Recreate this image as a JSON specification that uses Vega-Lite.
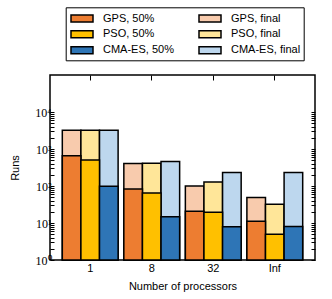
{
  "$schema": "https://vega.github.io/schema/vega-lite/v6.json",
  "width": 265,
  "height": 185,
  "autosize": "none",
  "padding": {"left": 50, "top": 75, "right": 17, "bottom": 39},
  "config": {
    "view": {"stroke": "black", "strokeWidth": 1.5},
    "font": "Liberation Sans",
    "legend": {"strokeColor": "black", "fillColor": "white"},
    "axis": {"domain": false, "grid": false, "tickColor": "black", "labelColor": "black", "titleColor": "black", "titleFontWeight": "normal", "titleFontSize": 11, "titleFont": "Liberation Sans"}
  },
  "data": {
    "values": [
      {"procs": "1", "method": "GPS", "stage": "final", "label": "GPS, final", "value": 3200},
      {"procs": "1", "method": "PSO", "stage": "final", "label": "PSO, final", "value": 3200},
      {"procs": "1", "method": "CMA-ES", "stage": "final", "label": "CMA-ES, final", "value": 3200},
      {"procs": "1", "method": "GPS", "stage": "50%", "label": "GPS, 50%", "value": 655},
      {"procs": "1", "method": "PSO", "stage": "50%", "label": "PSO, 50%", "value": 507},
      {"procs": "1", "method": "CMA-ES", "stage": "50%", "label": "CMA-ES, 50%", "value": 99},
      {"procs": "8", "method": "GPS", "stage": "final", "label": "GPS, final", "value": 403},
      {"procs": "8", "method": "PSO", "stage": "final", "label": "PSO, final", "value": 415},
      {"procs": "8", "method": "CMA-ES", "stage": "final", "label": "CMA-ES, final", "value": 459},
      {"procs": "8", "method": "GPS", "stage": "50%", "label": "GPS, 50%", "value": 83},
      {"procs": "8", "method": "PSO", "stage": "50%", "label": "PSO, 50%", "value": 65},
      {"procs": "8", "method": "CMA-ES", "stage": "50%", "label": "CMA-ES, 50%", "value": 14.8},
      {"procs": "32", "method": "GPS", "stage": "final", "label": "GPS, final", "value": 100},
      {"procs": "32", "method": "PSO", "stage": "final", "label": "PSO, final", "value": 129},
      {"procs": "32", "method": "CMA-ES", "stage": "final", "label": "CMA-ES, final", "value": 230},
      {"procs": "32", "method": "GPS", "stage": "50%", "label": "GPS, 50%", "value": 20.7},
      {"procs": "32", "method": "PSO", "stage": "50%", "label": "PSO, 50%", "value": 19.6},
      {"procs": "32", "method": "CMA-ES", "stage": "50%", "label": "CMA-ES, 50%", "value": 7.9},
      {"procs": "Inf", "method": "GPS", "stage": "final", "label": "GPS, final", "value": 49},
      {"procs": "Inf", "method": "PSO", "stage": "final", "label": "PSO, final", "value": 32},
      {"procs": "Inf", "method": "CMA-ES", "stage": "final", "label": "CMA-ES, final", "value": 230},
      {"procs": "Inf", "method": "GPS", "stage": "50%", "label": "GPS, 50%", "value": 11.2},
      {"procs": "Inf", "method": "PSO", "stage": "50%", "label": "PSO, 50%", "value": 5.0},
      {"procs": "Inf", "method": "CMA-ES", "stage": "50%", "label": "CMA-ES, 50%", "value": 8.0}
    ]
  },
  "encoding": {
    "xOffset": {"field": "method", "type": "nominal", "sort": ["GPS", "PSO", "CMA-ES"], "scale": {"paddingInner": 0, "paddingOuter": 0}},
    "y2": {"value": "height"},
    "color": {
      "field": "label",
      "type": "nominal",
      "scale": {
        "domain": ["GPS, 50%", "GPS, final", "PSO, 50%", "PSO, final", "CMA-ES, 50%", "CMA-ES, final"],
        "range": ["#ED7D31", "#F8CBAD", "#FFC000", "#FFE699", "#2E75B6", "#BDD7EE"]
      },
      "legend": {
        "orient": "none",
        "direction": "horizontal",
        "legendX": 15.7,
        "legendY": -67.7,
        "columns": 2,
        "gridAlign": "each",
        "title": null,
        "strokeColor": "black",
        "fillColor": "white",
        "padding": 3,
        "symbolType": "M-0.814,-0.5H2.329V0.5H-0.814Z",
        "symbolSize": 196,
        "symbolStrokeColor": "black",
        "symbolStrokeWidth": 1.5,
        "labelFontSize": 11,
        "labelFont": "Liberation Sans",
        "labelColor": "black",
        "labelAlign": "left",
        "labelOffset": 18.3,
        "rowPadding": 1,
        "columnPadding": 21
      }
    }
  },
  "layer": [
    {
      "transform": [{"filter": "datum.stage == 'final'"}],
      "mark": {"type": "bar", "stroke": "black", "strokeWidth": 1.5},
      "encoding": {
        "x": {
          "field": "procs", "type": "nominal", "sort": ["1", "8", "32", "Inf"],
          "scale": {"paddingInner": 0.093, "paddingOuter": 0.2},
          "axis": {"orient": "bottom", "title": "Number of processors", "labelAngle": 0, "labelFontSize": 11, "labelFont": "Liberation Sans", "tickSize": -5, "labelPadding": 7, "titlePadding": 7, "zindex": 0}
        },
        "y": {
          "field": "value", "type": "quantitative", "stack": null,
          "scale": {"type": "log", "domain": [1, 12300]},
          "axis": {
            "orient": "left", "title": "Runs", "titlePadding": 14,
            "values": [1,2,3,4,5,6,7,8,9,10,20,30,40,50,60,70,80,90,100,200,300,400,500,600,700,800,900,1000,2000,3000,4000,5000,6000,7000,8000,9000,10000],
            "labelExpr": "datum.value == 1 ? '10⁰' : datum.value == 10 ? '10¹' : datum.value == 100 ? '10²' : datum.value == 1000 ? '10³' : datum.value == 10000 ? '10⁴' : ''",
            "labelOverlap": false,
            "labelFont": "Liberation Serif",
            "labelFontSize": 12,
            "labelPadding": 3,
            "tickSize": -4,
            "zindex": 0
          }
        }
      }
    },
    {
      "transform": [{"filter": "datum.stage == '50%'"}],
      "mark": {"type": "bar", "stroke": "black", "strokeWidth": 1.5},
      "encoding": {
        "x": {
          "field": "procs", "type": "nominal", "sort": ["1", "8", "32", "Inf"],
          "axis": {"orient": "top", "title": null, "labels": false, "tickSize": -5, "zindex": 0}
        },
        "y": {
          "field": "value", "type": "quantitative", "stack": null,
          "axis": {
            "orient": "right", "title": null, "labels": false,
            "values": [1,2,3,4,5,6,7,8,9,10,20,30,40,50,60,70,80,90,100,200,300,400,500,600,700,800,900,1000,2000,3000,4000,5000,6000,7000,8000,9000,10000],
            "tickSize": -4,
            "zindex": 0
          }
        }
      }
    }
  ],
  "resolve": {"axis": {"x": "independent", "y": "independent"}}
}
